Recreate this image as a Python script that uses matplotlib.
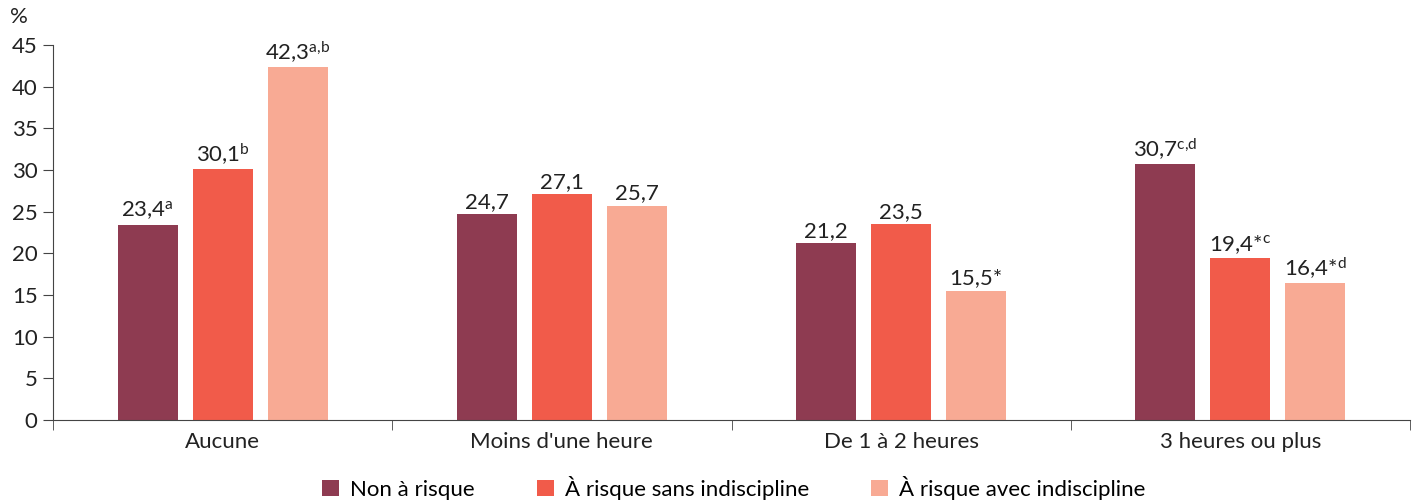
import numpy as np
import matplotlib
matplotlib.use("Agg")
import matplotlib.pyplot as plt

plt.rcParams['font.family'] = ['Lato', 'DejaVu Sans']
plt.rcParams['mathtext.fontset'] = 'custom'
plt.rcParams['mathtext.rm'] = 'Lato'
plt.rcParams['mathtext.it'] = 'Lato'

categories = ["Aucune", "Moins d'une heure", "De 1 à 2 heures", "3 heures ou plus"]
series = ["Non à risque", "À risque sans indiscipline", "À risque avec indiscipline"]
non_risque = [23.4, 24.7, 21.2, 30.7]
sans_indisc = [30.1, 27.1, 23.5, 19.4]
avec_indisc = [42.3, 25.7, 15.5, 16.4]
labels = [
    ["23,4$^{\\mathrm{a}}$", "24,7", "21,2", "30,7$^{\\mathrm{c{,}d}}$"],
    ["30,1$^{\\mathrm{b}}$", "27,1", "23,5", "19,4*$^{\\mathrm{c}}$"],
    ["42,3$^{\\mathrm{a{,}b}}$", "25,7", "15,5*", "16,4*$^{\\mathrm{d}}$"],
]
colors = ["#8E3B51", "#F15B4A", "#F8AA94"]
fs = 16

fig = plt.figure(figsize=(14.16, 5.01), dpi=100)
ax = fig.add_axes([53/1416, 81/501, 1357/1416, 375/501])

x = np.arange(len(categories))
width = 60/339.5
step = 75/339.5
for i, vals in enumerate([non_risque, sans_indisc, avec_indisc]):
    pos = x + (i - 1)*step
    ax.bar(pos, vals, width, color=colors[i], label=series[i])
    for p, v, lab in zip(pos, vals, labels[i]):
        ax.text(p, v + 0.3, lab, ha='center', va='bottom', fontsize=fs, color='#222222')

ax.set_xlim(-0.5, 3.5)
ax.set_ylim(0, 45)
ax.set_yticks(range(0, 50, 5))
ax.set_xticks(x)
ax.set_xticklabels(categories)
ax.set_xticks(np.arange(-0.5, 4.0, 1), minor=True)
ax.tick_params(axis='x', which='major', length=0, labelsize=fs, pad=9, colors='#222222')
ax.tick_params(axis='x', which='minor', length=7, direction='out', color='#444444')
ax.tick_params(axis='y', length=7, direction='out', labelsize=fs, pad=4, color='#444444', labelcolor='#222222')
for s in ['top', 'right']:
    ax.spines[s].set_visible(False)
ax.spines['left'].set_color('#444444')
ax.spines['bottom'].set_color('#444444')
fig.text(10/1416, 1 - 17/501, '%', fontsize=fs, va='center', ha='left', color='#222222')

leg = fig.legend(loc='center', bbox_to_anchor=(734/1416, 1 - 488/501), ncol=3, frameon=False,
                 fontsize=fs, handlelength=0.75, handleheight=0.75, columnspacing=2.8, handletextpad=0.5)

fig.savefig('out.png', dpi=100)
